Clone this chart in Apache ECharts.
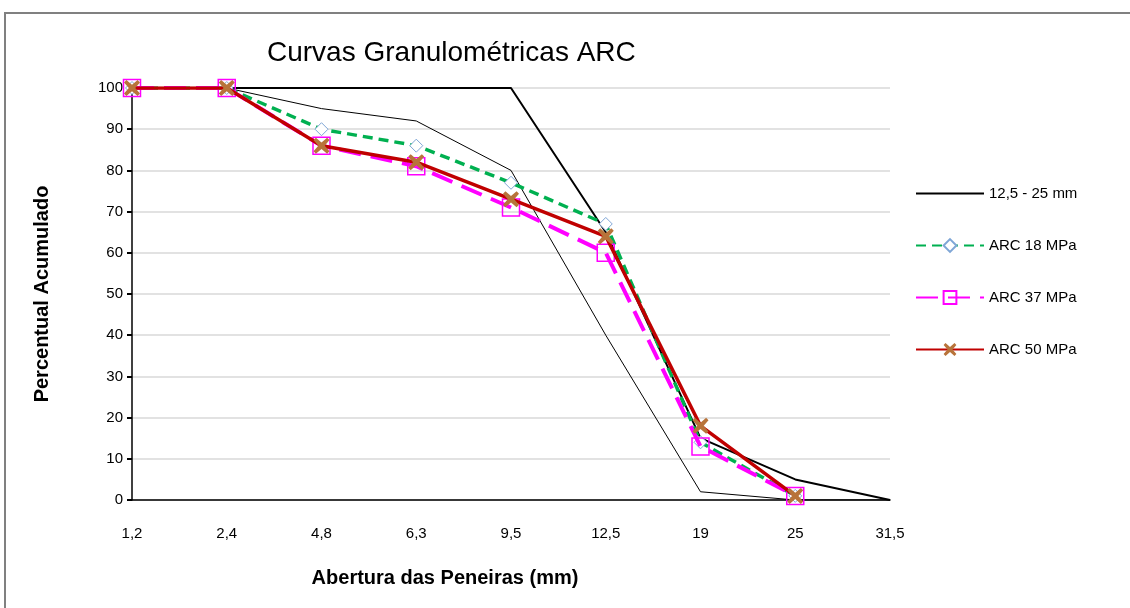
<!DOCTYPE html>
<html>
<head>
<meta charset="utf-8">
<script src="https://cdn.jsdelivr.net/npm/echarts@6/dist/echarts.min.js"></script>
<style>
  html, body { margin: 0; padding: 0; background: #fff; }
  #chart { width: 1130px; height: 608px; }
</style>
</head>
<body>
<div id="chart"></div>
<script>
const sieves = ['1,2', '2,4', '4,8', '6,3', '9,5', '12,5', '19', '25', '31,5']
const yTicks = [0, 10, 20, 30, 40, 50, 60, 70, 80, 90, 100]

const limitUpper = [100, 100, 100, 100, 100, 65, 15, 5, 0]
const limitLower = [100, 100, 95, 92, 80, 40, 2, 0, 0]
const arc18 = [100, 100, 90, 86, 77, 67, 14, 1, null]
const arc37 = [100, 100, 86, 81, 71, 60, 13, 1, null]
const arc50 = [100, 100, 86, 82, 73, 64, 18, 1, null]

const FONT = '"Liberation Sans", Arial, sans-serif'
// chunky x used by the ARC 50 series
const CROSS = 'path://M3,0 L10,6 L17,0 L20,3 L14,10 L20,17 L17,20 L10,14 L3,20 L0,17 L6,10 L0,3 Z'

const chart = echarts.init(document.getElementById('chart'))

chart.setOption({
  animation: false,
  backgroundColor: '#fff',
  textStyle: { fontFamily: FONT },
  title: {
    text: 'Curvas Granulométricas ARC',
    left: 262,
    top: 34,
    textStyle: { fontSize: 28, fontWeight: 'normal', color: '#000', fontFamily: FONT }
  },
  graphic: [
    {
      type: 'rect',
      shape: { x: 5, y: 13, width: 1135, height: 640 },
      style: { fill: 'none', stroke: '#808080', lineWidth: 2 },
      silent: true
    }
  ],
  legend: {
    orient: 'vertical',
    left: 910,
    top: 181,
    itemGap: 37,
    itemWidth: 68,
    itemHeight: 16,
    textStyle: { fontSize: 15, color: '#000', fontFamily: FONT },
    data: [
      { name: '12,5 - 25 mm', itemStyle: { opacity: 0 } },
      'ARC 18 MPa',
      'ARC 37 MPa',
      'ARC 50 MPa'
    ]
  },
  grid: { left: 132, right: 240, top: 88, bottom: 108 },
  xAxis: {
    type: 'category',
    data: sieves,
    boundaryGap: false,
    axisLine: { lineStyle: { color: '#000', width: 1.5 } },
    axisTick: { show: false },
    axisLabel: { color: '#000', fontSize: 15, margin: 26, fontFamily: FONT },
    name: 'Abertura das Peneiras (mm)',
    nameLocation: 'middle',
    nameGap: 68,
    nameTextStyle: { fontSize: 20, fontWeight: 'bold', color: '#000', padding: [0, 132, 0, 0], fontFamily: FONT }
  },
  yAxis: {
    type: 'value',
    min: yTicks[0],
    max: yTicks[yTicks.length - 1],
    interval: 10,
    axisLine: { show: true, lineStyle: { color: '#000', width: 1.5 } },
    axisTick: { show: true, length: 5, lineStyle: { color: '#000', width: 2 } },
    axisLabel: { color: '#000', fontSize: 15, margin: 9, fontFamily: FONT },
    splitLine: { lineStyle: { color: '#d9d9d9', width: 1.5 } },
    name: 'Percentual Acumulado',
    nameLocation: 'middle',
    nameGap: 80,
    nameTextStyle: { fontSize: 20, fontWeight: 'bold', color: '#000', fontFamily: FONT }
  },
  series: [
    {
      name: '12,5 - 25 mm',
      type: 'line',
      data: limitUpper,
      symbol: 'none',
      lineStyle: { color: '#000', width: 2 },
      itemStyle: { color: '#000' },
      z: 2
    },
    {
      name: '12,5 - 25 mm',
      type: 'line',
      data: limitLower,
      symbol: 'none',
      lineStyle: { color: '#000', width: 1 },
      itemStyle: { color: '#000' },
      z: 2
    },
    {
      name: 'ARC 18 MPa',
      type: 'line',
      data: arc18,
      symbol: 'diamond',
      symbolSize: 13,
      showAllSymbol: true,
      lineStyle: { color: '#00b050', width: 3.5, type: [10, 6] },
      itemStyle: { color: '#fff', borderColor: '#7fa6d6', borderWidth: 1 },
      z: 3
    },
    {
      name: 'ARC 37 MPa',
      type: 'line',
      data: arc37,
      symbol: 'rect',
      symbolSize: 17,
      lineStyle: { color: '#ff00ff', width: 4, type: [22, 10] },
      itemStyle: { color: 'rgba(255,255,255,0)', borderColor: '#ff00ff', borderWidth: 1.5 },
      z: 4
    },
    {
      name: 'ARC 50 MPa',
      type: 'line',
      data: arc50,
      symbol: CROSS,
      symbolSize: 16,
      lineStyle: { color: '#c00000', width: 3.5 },
      itemStyle: { color: '#b8733a' },
      z: 5
    }
  ]
})
</script>
</body>
</html>
